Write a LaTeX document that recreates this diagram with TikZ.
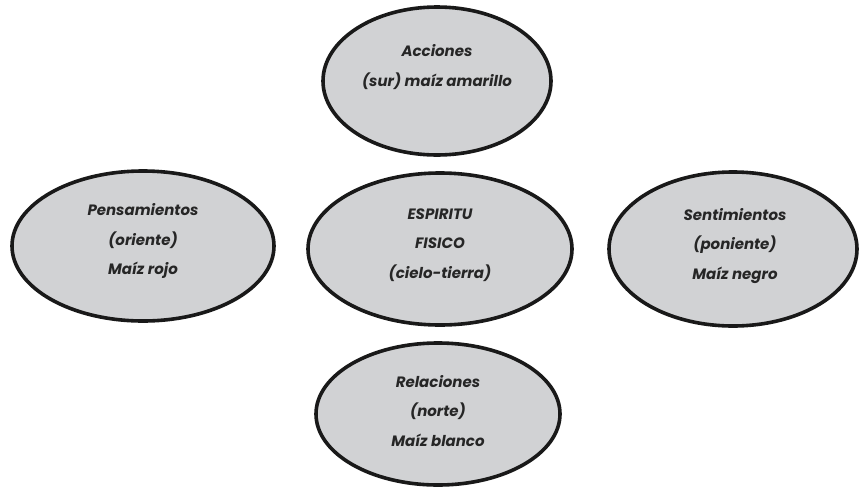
\documentclass[tikz,border=0pt]{standalone}
\usepackage{fontspec}
\setsansfont{Poppins}
\usetikzlibrary{shapes.geometric}
\definecolor{elgray}{HTML}{D1D2D4}
\begin{document}
\begin{tikzpicture}[x=1pt, y=-1pt,
  elip/.style={ellipse, draw=black!90, line width=3.6pt, fill=elgray, inner sep=0pt},
  txt/.style={align=center, font=\sffamily\bfseries\itshape\fontsize{15}{29.5}\selectfont, text=black!85}]
\useasboundingbox (0,0) rectangle (860,488);
\node[elip, minimum width=228, minimum height=148] (eid0) at (437,81){};
\node[elip, minimum width=262, minimum height=150] (eid1) at (143,246){};
\node[elip, minimum width=264, minimum height=152] (eid2) at (440,249){};
\node[elip, minimum width=248, minimum height=154] (eid3) at (733,249){};
\node[elip, minimum width=244, minimum height=142] (eid4) at (438,414){};
\node[txt] (tid0) at (437,67){Acciones\\(sur) maíz amarillo};
\node[txt] (tid1) at (143,241){Pensamientos\\(oriente)\\Maíz rojo};
\node[txt] (tid2) at (440,245){ESPIRITU\\FISICO\\(cielo-tierra)};
\node[txt] (tid3) at (735,246){Sentimientos\\(poniente)\\Maíz negro};
\node[txt] (tid4) at (438,411){Relaciones\\(norte)\\Maíz blanco};
\end{tikzpicture}
\end{document}
